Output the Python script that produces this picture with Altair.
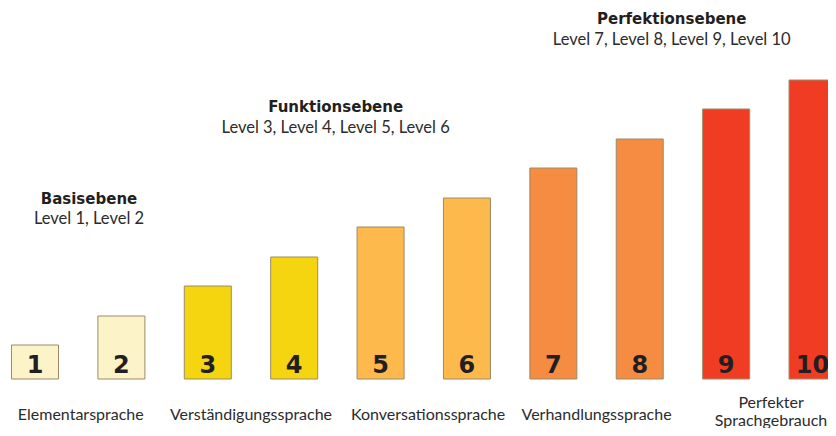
import altair as alt
import pandas as pd

# Bars
levels = [1, 2, 3, 4, 5, 6, 7, 8, 9, 10]
heights = [34, 63, 93, 122, 152, 181, 211, 240, 270, 299]
tiers = ["Basis", "Basis", "Funktion", "Funktion", "Konv", "Konv",
         "Verh", "Verh", "Perf", "Perf"]
tier_names = ["Basis", "Funktion", "Konv", "Verh", "Perf"]
tier_colors = ["#FCF4C8", "#F5D410", "#FDB94B", "#F68B42", "#F13C24"]

# Labels under each pair of bars
cat_labels = ["Elementarsprache", "Verständigungssprache", "Konversationssprache",
              "Verhandlungssprache", "Perfekter", "Sprachgebrauch"]
cat_x = [1.53, 3.5, 5.55, 7.5, 9.52, 9.52]
cat_y = [-41, -41, -41, -41, -29, -47]

# Tier headings
head_titles = ["Basisebene", "Funktionsebene", "Perfektionsebene"]
head_levels = ["Level 1, Level 2", "Level 3, Level 4, Level 5, Level 6",
               "Level 7, Level 8, Level 9, Level 10"]
head_x = [1.625, 4.48, 8.37]
head_title_y = [175, 267, 355]
head_level_y = [155, 246, 334]

bars = pd.DataFrame({"level": levels, "value": heights, "tier": tiers,
                     "base": [0] * len(levels), "ny": [6] * len(levels),
                     "num": [str(v) for v in levels]})
cats = pd.DataFrame({"x": cat_x, "y": cat_y, "label": cat_labels})
heads = pd.DataFrame({"x": head_x, "ty": head_title_y, "ly": head_level_y,
                      "title": head_titles, "lv": head_levels})

xs = alt.Scale(domain=[0.6875, 10.179], nice=False, zero=False, padding=0)
ys = alt.Scale(domain=[-49, 371], nice=False, zero=False, padding=0)


def X(f):
    return alt.X(f, type="quantitative", scale=xs, axis=None)


def Y(f):
    return alt.Y(f, type="quantitative", scale=ys, axis=None)


bar_layer = alt.Chart(bars).mark_bar(size=47, stroke="#9C8A66", strokeWidth=1).encode(
    x=X("level"),
    y=Y("value"),
    y2=alt.Y2("base"),
    color=alt.Color("tier:N", scale=alt.Scale(domain=tier_names, range=tier_colors), legend=None),
)

num_layer = alt.Chart(bars).mark_text(
    font="DejaVu Sans", fontWeight="bold", fontSize=24, color="#231F20",
    baseline="alphabetic", align="center"
).encode(x=X("level"), y=Y("ny"), text="num:N")

cat_layer = alt.Chart(cats).mark_text(
    font="Lato", fontSize=16, color="#2B2B2B", baseline="alphabetic", align="center"
).encode(x=X("x"), y=Y("y"), text="label:N")

head_t = alt.Chart(heads).mark_text(
    font="DejaVu Sans", fontWeight="bold", fontSize=15, color="#231F20",
    baseline="alphabetic", align="center"
).encode(x=X("x"), y=Y("ty"), text="title:N")

head_l = alt.Chart(heads).mark_text(
    font="Lato", fontSize=16.5, color="#2B2B2B", baseline="alphabetic", align="center"
).encode(x=X("x"), y=Y("ly"), text="lv:N")

chart = alt.layer(bar_layer, num_layer, cat_layer, head_t, head_l).properties(
    width=820, height=420, padding=0, background="white",
    autosize=alt.AutoSizeParams(type="none")
).configure_view(stroke=None)

chart.save("out.html", embed_options={"renderer": "svg", "actions": False})
